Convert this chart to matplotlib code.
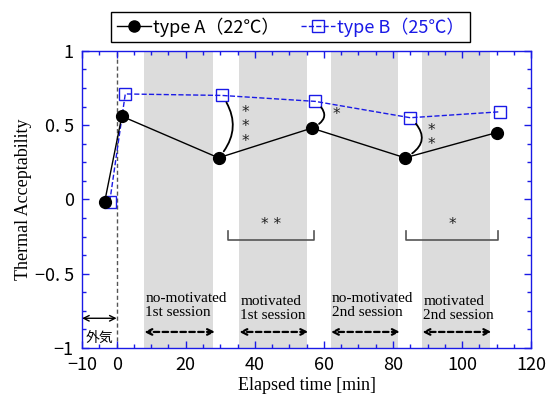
import matplotlib.pyplot as plt
from matplotlib.ticker import FixedLocator, MultipleLocator

# 経過時間と温冷感申告値
time_a = [-3.5, 1.5, 29.5, 56.5, 83.5, 110]
accept_a = [-0.02, 0.56, 0.28, 0.48, 0.28, 0.45]
time_b = [-2, 2.5, 30.5, 57.5, 85, 111]
accept_b = [-0.015, 0.71, 0.70, 0.66, 0.55, 0.59]

# セッション区間
sessions = [(8, 28), (35.5, 55), (62, 81.5), (88.5, 108)]
session_labels = ['no-motivated\n1st session', 'motivated\n1st session',
                  'no-motivated\n2nd session', 'motivated\n2nd session']

# 有意差 (A-B間)
sig_idx = [2, 3, 4]
sig_marks = ['*\n*\n*', '*', '*\n*']
# 有意差 (セッション間)
brackets = [(32.3, 57.2, '* *'), (83.7, 110.4, '*')]

jp = ['Noto Sans CJK JP', 'DejaVu Sans']
blue = '#1a1ae6'

fig = plt.figure(figsize=(5.51, 4.07), dpi=100)
ax = fig.add_axes([0.149, 0.145, 0.815, 0.730])

for s, e in sessions:
    ax.axvspan(s, e, color='#dcdcdc', lw=0, zorder=0)
ax.axvline(0, color='#555555', lw=1, ls=(0, (3, 2)), zorder=1)

ax.plot(time_a, accept_a, '-o', color='black', lw=1, ms=8.5, label='type A（22℃）', zorder=4)
ax.plot(time_b, accept_b, '--s', color=blue, lw=1, ms=8.5, mfc='none', mew=1,
        label='type B（25℃）', zorder=3)

# A-B 間の弧と星印
rads = [-0.4, -0.8, -0.7]
star_off = [6.7, 6.0, 6.2]
for i, m, r, off in zip(sig_idx, sig_marks, rads, star_off):
    ax.annotate('', xy=(time_a[i], accept_a[i]), xytext=(time_b[i], accept_b[i]),
                arrowprops=dict(arrowstyle='-', color='black', lw=1.3,
                                connectionstyle='arc3,rad=%s' % r,
                                shrinkA=6, shrinkB=6), zorder=5)
    xm = time_b[i] + off
    ym = (accept_a[i] + accept_b[i]) / 2
    ax.text(xm, ym, m, ha='center', va='center', fontsize=11,
            linespacing=0.95, family='DejaVu Sans', color='#222222')

# セッション間のブラケット
for x0, x1, m in brackets:
    ax.plot([x0, x0, x1, x1], [-0.215, -0.275, -0.275, -0.215],
            color='#555555', lw=1.2)
    ax.text((x0 + x1) / 2, -0.17, m, ha='center', va='center', fontsize=11,
            family='DejaVu Sans', color='#222222')

# セッションの説明
for (s, e), lab in zip(sessions, session_labels):
    yc = -0.735 if lab.startswith('motivated') else -0.715
    ax.text(s + 0.3, yc, lab, ha='left', va='center', fontsize=11,
            family='Liberation Serif', linespacing=1.15)
    ax.annotate('', xy=(s, -0.892), xytext=(e + 0.5, -0.892),
                arrowprops=dict(arrowstyle='<->', color='black', lw=1.6,
                                ls=(0, (2.5, 1.5)), shrinkA=0, shrinkB=0))

# 外気
ax.annotate('', xy=(-10, -0.8), xytext=(0, -0.8),
            arrowprops=dict(arrowstyle='<->', color='black', lw=1, shrinkA=0, shrinkB=0))
ax.text(-5, -0.93, '外気', ha='center', va='center', fontsize=10, family=jp)

ax.set_xlim(-10, 120)
ax.set_ylim(-1, 1)
ax.xaxis.set_major_locator(FixedLocator([-10, 0, 20, 40, 60, 80, 100, 120]))
ax.xaxis.set_minor_locator(MultipleLocator(5))
ax.yaxis.set_major_locator(FixedLocator([-1, -0.5, 0, 0.5, 1]))
ax.yaxis.set_minor_locator(MultipleLocator(0.125))
ax.set_xticklabels(['−10', '0', '20', '40', '60', '80', '100', '120'])
ax.set_yticklabels(['−1', '−0. 5', '0', '0. 5', '1'])
for t in ax.get_xticklabels() + ax.get_yticklabels():
    t.set_family(jp)
    t.set_fontsize(13)

ax.tick_params(which='both', direction='in', top=True, right=True, color=blue)
ax.tick_params(which='major', length=5, width=1, pad=6)
ax.tick_params(which='minor', length=3, width=1)
for sp in ax.spines.values():
    sp.set_color(blue)
    sp.set_linewidth(1)

ax.set_xlabel('Elapsed time [min]', family='Liberation Serif', fontsize=13, labelpad=2)
ax.set_ylabel('Thermal Acceptability', family='Liberation Serif', fontsize=13, labelpad=2)

leg = fig.legend(loc='upper center', bbox_to_anchor=(0.527, 0.993), ncol=2,
                 fancybox=False, edgecolor='black', framealpha=1,
                 handlelength=1.9, handletextpad=0.1, columnspacing=1.2,
                 borderpad=0.3, prop={'family': jp, 'size': 13},
                 labelcolor=['black', blue])
leg.get_frame().set_linewidth(1)
for h in leg.legend_handles:
    h.set_markersize(8)

fig.savefig('out.png', dpi=100)
